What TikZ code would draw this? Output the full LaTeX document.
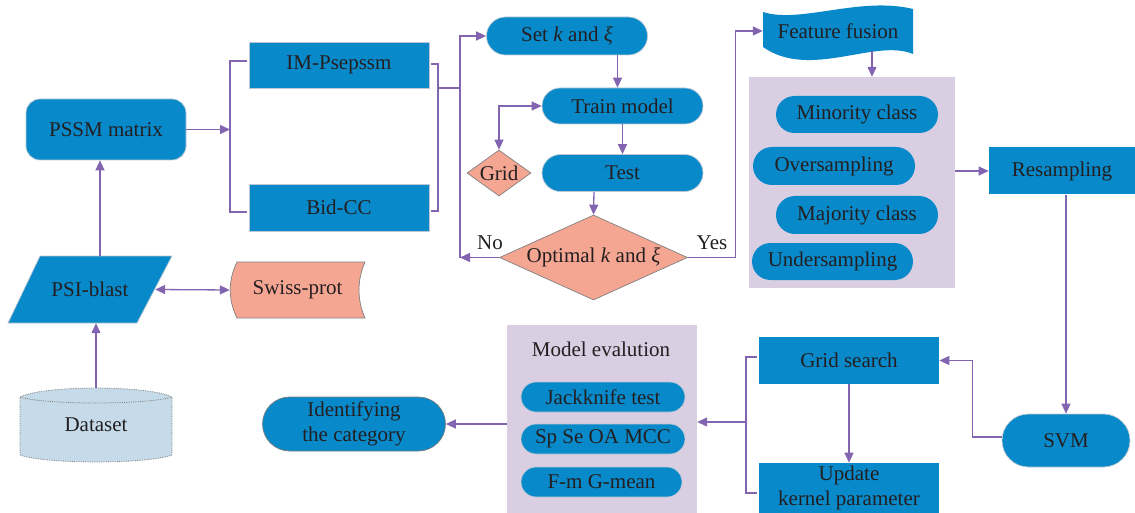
\documentclass[tikz,border=0pt]{standalone}
\usepackage{fontspec}
\setmainfont{Liberation Serif}
\usetikzlibrary{arrows.meta,shapes.misc,shapes.geometric,backgrounds}
\definecolor{nblue}{RGB}{8,137,202}
\definecolor{salm}{RGB}{244,166,146}
\definecolor{lav}{RGB}{217,206,226}
\definecolor{dsb}{RGB}{197,219,233}
\definecolor{arrc}{RGB}{130,100,176}
\definecolor{txt}{RGB}{35,31,32}
\definecolor{bord}{RGB}{190,200,210}
\newcommand{\fs}{\fontsize{21}{25}\selectfont}
\tikzset{
  base/.style={inner sep=0pt, text=txt, font=\fs, align=center},
  bluebox/.style={base, rectangle, fill=nblue, draw=bord, line width=0.7pt},
  stad/.style={base, rounded rectangle, fill=nblue, draw=bord, line width=0.7pt},
  sdiam/.style={base, diamond, fill=salm, draw=gray, line width=0.7pt},
  panelbox/.style={rectangle, fill=lav, inner sep=0pt},
  plain/.style={base},
  ln/.style={draw=arrc, line width=1.3pt},
  arr/.style={ln, -{Triangle[length=10pt,width=9pt]}},
  darr/.style={ln, {Triangle[length=10pt,width=9pt]}-{Triangle[length=10pt,width=9pt]}},
}
\begin{document}
\begin{tikzpicture}[x=1pt,y=-1pt]
\useasboundingbox (0,0) rectangle (1135,513);

% panels
\node[panelbox, minimum width=206pt, minimum height=211pt] (panel) at (852,182.5) {};
\node[panelbox, minimum width=190pt, minimum height=190pt] (panel2) at (602,420) {};

% left column
\node[bluebox, rounded corners=14pt, minimum width=160pt, minimum height=61pt] (pssm) at (106,129.5) {PSSM matrix};
\node[plain, minimum width=164pt, minimum height=67pt] (psi) at (90,289.5) {PSI-blast};
\node[plain, minimum width=135pt, minimum height=56pt] (swiss) at (297.5,290) {Swiss-prot};
\node[plain, minimum width=152pt, minimum height=74pt] (data) at (96,425) {Dataset};

\begin{scope}[on background layer]
  \path[fill=nblue, draw=bord, line width=0.7pt] (40,256) -- (172,256) -- (137,323) -- (8,323) -- cycle;
  \path[fill=salm, draw=gray, line width=0.7pt] (237,262) -- (365,262) .. controls (357,280) and (357,300) .. (365,318) -- (237,318) .. controls (228,300) and (228,280) .. (237,262) -- cycle;
  \path[fill=dsb, draw=gray, densely dotted, line width=0.8pt] (20,397) .. controls (45,385) and (147,385) .. (172,397) -- (172,455) .. controls (147,464.3) and (45,464.3) .. (20,455) -- cycle;
  \path[draw=gray, densely dotted, line width=0.8pt] (20,397) .. controls (45,405) and (147,405) .. (172,397);
  \path[fill=nblue] (763,12) .. controls (800,24) and (860,-4) .. (913,9) -- (913,54) .. controls (875,38) and (810,80) .. (763,47) -- cycle;
\end{scope}

% features
\node[bluebox, minimum width=180pt, minimum height=46pt] (im) at (339,65) {IM-Psepssm};
\node[bluebox, minimum width=180pt, minimum height=47pt] (bid) at (339,207.5) {Bid-CC};

% middle loop
\node[stad, minimum width=161pt, minimum height=38pt] (setk) at (567,36) {Set \textit{k} and \textit{ξ}};
\node[stad, minimum width=161pt, minimum height=36pt] (train) at (622.5,106) {Train model};
\node[stad, minimum width=161pt, minimum height=37pt] (test) at (622.5,173) {Test};
\node[sdiam, minimum width=64pt, minimum height=46pt, label={[base]center:Grid}] (grid) at (499,173) {};
\node[sdiam, minimum width=188pt, minimum height=85pt, label={[base]center:Optimal \textit{k} and \textit{ξ}}] (opt) at (593.5,257.5) {};
\node[plain] (no) at (490,243) {No};
\node[plain] (yes) at (712,243) {Yes};

% right top
\node[plain, minimum width=150pt, minimum height=40pt] (ff) at (838,31) {Feature fusion};
\node[stad, draw=none, minimum width=162pt, minimum height=37pt] (min) at (857,114.5) {Minority class};
\node[stad, draw=none, minimum width=162pt, minimum height=38pt] (over) at (834,166) {Oversampling};
\node[stad, draw=none, minimum width=162pt, minimum height=38pt] (maj) at (857,215) {Majority class};
\node[stad, draw=none, minimum width=161pt, minimum height=37pt] (under) at (832.5,261.5) {Undersampling};
\node[bluebox, draw=none, minimum width=146pt, minimum height=47pt] (res) at (1062,171) {Resampling};

% bottom right
\node[stad, minimum width=128pt, minimum height=53pt] (svm) at (1066,440.5) {SVM};
\node[bluebox, draw=none, minimum width=180pt, minimum height=47pt] (gs) at (849,360.5) {Grid search};
\node[bluebox, draw=none, minimum width=180pt, minimum height=50pt] (upd) at (849,488) {Update\\kernel parameter};

% model evaluation
\node[plain] (mev) at (601,349) {Model evalution};
\node[stad, minimum width=164pt, minimum height=30pt] (jk) at (603,397) {Jackknife test};
\node[stad, minimum width=164pt, minimum height=30pt] (sp) at (603,439) {Sp Se OA MCC};
\node[stad, minimum width=161pt, minimum height=30pt] (fm) at (601.5,482) {F-m G-mean};
\node[stad, draw=gray, minimum width=183pt, minimum height=54pt] (ident) at (354,424) {Identifying\\the category};

% coordinates
\coordinate (brL) at (230,129.5);
\coordinate (brR) at (438,88);
\coordinate (jn) at (460,88);
\coordinate (br3) at (746,422);

% connectors
\draw[arr] (data.north) -- ([xshift=6pt]psi.south);
\draw[arr] ([xshift=10pt]psi.north) -- ([xshift=-6pt]pssm.south);
\draw[darr] ([xshift=-17pt]psi.east) -- (swiss.west);
\draw[arr] (pssm.east) -- (brL);
\draw[ln] ([xshift=-2pt,yshift=4pt]im.west) -| (brL) |- ([xshift=-2pt,yshift=-4.5pt]bid.west);
\draw[ln] ([xshift=2pt,yshift=1pt]im.east) -| (brR) |- ([xshift=2pt,yshift=-3.5pt]bid.east);
\draw[ln] (brR) -- (jn) -- (opt.west -| jn);
\draw[arr] (jn) |- (setk.west);
\draw[arr] (opt.west) -- (opt.west -| jn);
\draw[arr] ([xshift=50.5pt]setk.south) -- ([xshift=-5pt]train.north);
\draw[arr] (train.south) -- (test.north);
\draw[darr] (train.west) -| (grid.north);
\draw[arr] ([xshift=0.5pt]test.south -| opt.north) -- (opt.north);
\draw[arr] (opt.east) -| ([xshift=-27pt]ff.west) -- (ff.west);
\draw[arr] ([xshift=34pt]ff.south) -- ([xshift=20pt]panel.north);
\draw[arr] (res.west -| panel.east) -- (res.west);
\draw[arr] ([xshift=4pt]res.south) -- (svm.north);
\draw[arr] ([yshift=3.5pt]svm.west) -| ([xshift=33pt]gs.east) -- (gs.east);
\draw[arr] (gs.south) -- (upd.north);
\draw[ln] ([xshift=-2pt,yshift=3.5pt]gs.west) -| (br3) |- ([xshift=-2pt,yshift=-5pt]upd.west);
\draw[arr] (br3) -- (br3 -| panel2.east);
\draw[arr] (ident.east -| panel2.west) -- (ident.east);
\end{tikzpicture}
\end{document}
